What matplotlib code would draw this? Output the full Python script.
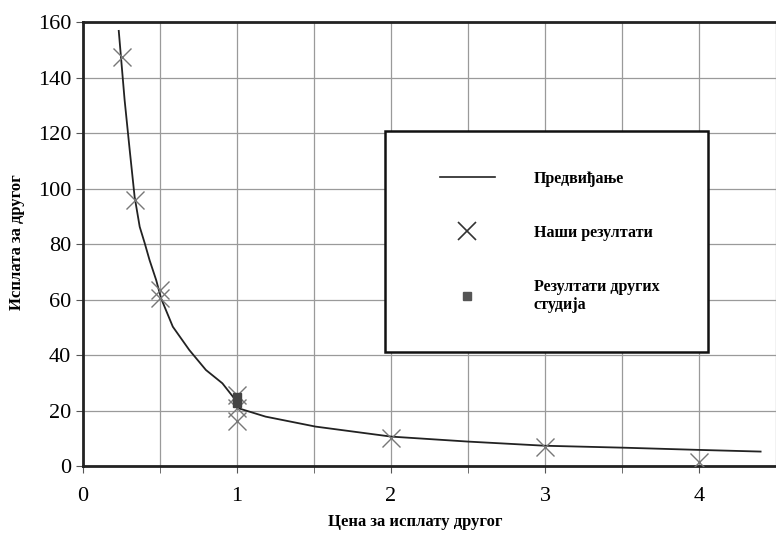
import matplotlib.pyplot as plt
from matplotlib.lines import Line2D
from matplotlib.patches import Rectangle

plt.rcParams['font.family'] = ['Liberation Serif', 'DejaVu Serif']

# prediction curve
pred_x = [0.232, 0.27, 0.303, 0.335, 0.368, 0.40, 0.432, 0.475, 0.507, 0.583,
          0.69, 0.798, 0.905, 0.99, 1.01, 1.185, 1.51, 2.0, 2.5, 3.0, 3.51,
          4.0, 4.40]
pred_y = [156.8, 131.9, 113.9, 97.0, 86.2, 80.4, 74.2, 67.0, 60.4, 50.2,
          41.8, 34.6, 29.8, 23.8, 20.8, 17.8, 14.2, 10.6, 8.8, 7.3, 6.6,
          5.8, 5.2]

# our results (crosses)
ours_x = [0.25, 0.335, 0.5, 0.5, 1.0, 1.0, 1.0, 2.0, 3.0, 4.0]
ours_y = [147.4, 95.9, 63.6, 60.6, 25.6, 20.8, 16.3, 10.2, 7.0, 1.6]

# other studies (squares)
other_x = [1.0, 1.0]
other_y = [24.8, 22.8]

fig = plt.figure(figsize=(7.76, 5.33), dpi=100)
ax = fig.add_axes([0.107, 0.1257, 0.893, 0.833])

ax.plot(pred_x, pred_y, color='#222222', lw=1.3, zorder=3)
ax.plot(ours_x, ours_y, linestyle='none', marker='x', ms=13, mew=1.0,
        color='#777777', zorder=4)
ax.plot(other_x, other_y, linestyle='none', marker='s', ms=6,
        color='#444444', zorder=5)

ax.set_xlim(0, 4.47)
ax.set_ylim(0, 160)
ax.set_xticks([0, 1, 2, 3, 4])
ax.set_xticks([0.5, 1.5, 2.5, 3.5, 4.5], minor=True)
ax.set_yticks(range(0, 161, 20))
ax.grid(True, which='both', color='#9a9a9a', lw=0.9)
ax.tick_params(axis='both', which='both', direction='out', length=5,
               color='#555555', labelsize=16)
ax.tick_params(axis='x', pad=10)
ax.spines['right'].set_visible(False)
for s in ['left', 'top', 'bottom']:
    ax.spines[s].set_linewidth(2)
    ax.spines[s].set_color('#222222')

ax.set_xlabel('Цена за исплату другог', fontweight='bold', fontsize=12)
ax.xaxis.set_label_coords(0.48, -0.108)
ax.set_ylabel('Исплата за другог', fontweight='bold', fontsize=12)
ax.yaxis.set_label_coords(-0.084, 0.505)

# legend box
ax.add_patch(Rectangle((1.96, 41.0), 2.10, 79.7, facecolor='white',
                       edgecolor='#111111', lw=1.8, zorder=9))

handles = [
    Line2D([], [], color='#222222', lw=1.2),
    Line2D([], [], linestyle='none', marker='x', ms=13, mew=1.2, color='#333333'),
    Line2D([], [], linestyle='none', marker='s', ms=6, color='#555555'),
]
labels = ['Предвиђање', 'Наши резултати', 'Резултати других\nстудија']
leg = ax.legend(handles, labels, loc='upper left', bbox_to_anchor=(2.315, 106.4),
                bbox_transform=ax.transData, frameon=False,
                prop={'weight': 'bold', 'size': 11.5}, handlelength=3.5,
                handletextpad=2.4, labelspacing=2.375, borderpad=0,
                borderaxespad=0)
leg.set_zorder(10)

fig.savefig('out.png', dpi=100)
